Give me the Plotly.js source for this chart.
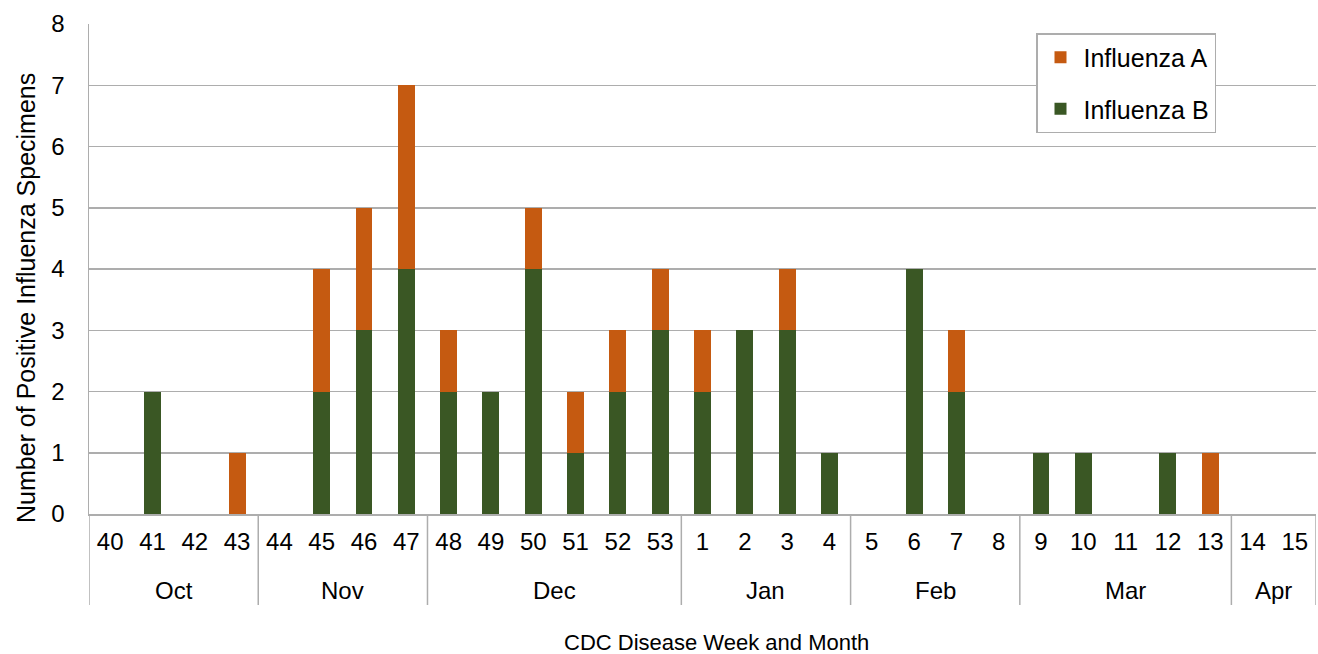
<!DOCTYPE html>
<html>
<head>
<meta charset="utf-8">
<script src="https://cdn.plot.ly/plotly-3.0.1.min.js"></script>
<style>html,body{margin:0;padding:0;background:#fff;}#chart{width:1318px;height:654px;}</style>
</head>
<body>
<div id="chart"></div>
<script>
// Data
const weeks = ["40","41","42","43","44","45","46","47","48","49","50","51","52","53","1","2","3","4","5","6","7","8","9","10","11","12","13","14","15"];
const influenzaA = [0,0,0,1,0,2,2,3,1,0,1,1,1,1,1,0,1,0,0,0,1,0,0,0,0,0,1,0,0];
const influenzaB = [0,2,0,0,0,2,3,4,2,2,4,1,2,3,2,3,3,1,0,4,2,0,1,1,0,1,0,0,0];
const months = ["Oct","Nov","Dec","Jan","Feb","Mar","Apr"];
const monthWeekCounts = [4,4,6,4,4,5,2];

const gridColor = "#ADADAD";
const fontFam = "Liberation Sans, Arial, sans-serif";

const traces = [
  {type:"bar", name:"Influenza B", x:weeks, y:influenzaB, marker:{color:"#3A5724"}, legendgroup:"b", legendrank:2},
  {type:"bar", name:"Influenza A", x:weeks, y:influenzaA, marker:{color:"#C55A11"}, legendgroup:"a", legendrank:1}
];

// month dividers and labels
const shapes = [];
const annotations = [];
let start = 0;
const yLow = -91/490;
shapes.push({type:"line", xref:"x", yref:"paper", x0:-0.5, x1:-0.5, y0:0, y1:yLow, line:{color:gridColor, width:1.5}});
months.forEach((m,i)=>{
  const n = monthWeekCounts[i];
  const end = start + n;
  shapes.push({type:"line", xref:"x", yref:"paper", x0:end-0.5, x1:end-0.5, y0:0, y1:yLow, line:{color:gridColor, width:1.5}});
  annotations.push({text:m, xref:"x", yref:"paper", x:start + (n-1)/2, y:-76/490, xanchor:"center", yanchor:"middle", showarrow:false, font:{family:fontFam, size:24, color:"#000"}});
  start = end;
});
annotations.push({text:"CDC Disease Week and Month", xref:"paper", yref:"paper", x:(716-89)/1227, y:-128/490, xanchor:"center", yanchor:"middle", showarrow:false, font:{family:fontFam, size:22, color:"#000"}});
annotations.push({text:"Number of Positive Influenza Specimens", xref:"paper", yref:"paper", x:(26-89)/1227, y:(514-298)/490, xanchor:"center", yanchor:"middle", textangle:-90, showarrow:false, font:{family:fontFam, size:25, color:"#000"}});

const layout = {
  width:1318, height:654,
  margin:{l:89, r:2, t:24, b:140},
  paper_bgcolor:"#fff", plot_bgcolor:"#fff",
  barmode:"stack", bargap:0.6,
  font:{family:fontFam, size:24, color:"#000"},
  xaxis:{type:"category", range:[-0.5,28.5], showgrid:false, showline:true, linecolor:gridColor, linewidth:1.5,
         ticks:"", tickfont:{family:fontFam, size:24, color:"#000"}, ticklabelstandoff:6, fixedrange:true},
  yaxis:{range:[0,8], dtick:1, showgrid:true, gridcolor:gridColor, gridwidth:1.5, showline:true, linecolor:gridColor, linewidth:1.5,
         zeroline:false, ticks:"", tickfont:{family:fontFam, size:24, color:"#000"}, ticklabelstandoff:18},
  showlegend:true,
  legend:{x:(1036-89)/1227, y:(514-33)/490, xanchor:"left", yanchor:"top", bgcolor:"#fff", bordercolor:gridColor, borderwidth:1.5,
          traceorder:"grouped", tracegroupgap:16, itemwidth:36, font:{family:fontFam, size:25, color:"#000"}},
  shapes:shapes, annotations:annotations
};
Plotly.newPlot("chart", traces, layout, {displayModeBar:false, staticPlot:true});
</script>
</body>
</html>
